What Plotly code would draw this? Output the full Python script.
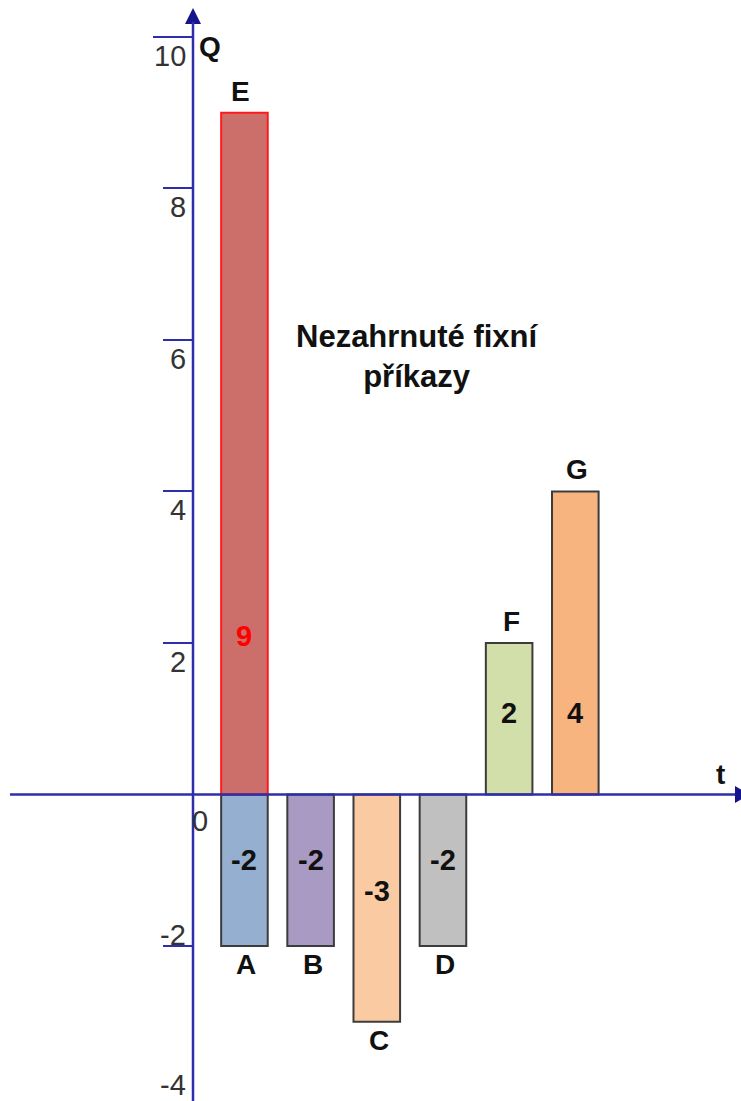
import plotly.graph_objects as go

# Bar data
categories = ["A", "B", "C", "D", "E", "F", "G"]
values = [-2, -2, -3, -2, 9, 2, 4]
slots = [1, 2, 3, 4, 1, 5, 6]
fill_colors = ["#95AFD0", "#A99AC3", "#FACBA3", "#C0C0C0", "#CC6F6A", "#D3DFAB", "#F7B47F"]
edge_colors = ["#3C3C3C", "#3C3C3C", "#3C3C3C", "#3C3C3C", "#FF1A1A", "#3C3C3C", "#3C3C3C"]
value_colors = ["#111111", "#111111", "#111111", "#111111", "#FF0000", "#111111", "#111111"]
y_ticks = [-4, -2, 0, 2, 4, 6, 8, 10]
note_lines = ["Nezahrnuté fixní", "příkazy"]

# Layout constants
W, H = 741, 1101
X_RANGE = [-2.694, 8.504]
Y_RANGE = [-4.046, 10.488]
AXIS_X = 193 / W               # paper position of the vertical Q axis
AXIS_XD = X_RANGE[0] + AXIS_X * (X_RANGE[1] - X_RANGE[0])
BAR_W = 0.704
AXIS_COLOR = "#2E2EAA"
ARROW_COLOR = "#14148C"
FONT = "Liberation Sans, Arial, sans-serif"

# heights at which the value text sits inside each bar
value_text_y = {"A": -0.86, "B": -0.86, "C": -1.28, "D": -0.86,
                "E": 2.09, "F": 1.07, "G": 1.07}

fig = go.Figure()

fig.add_trace(go.Bar(
    x=slots, y=values, width=BAR_W,
    marker=dict(color=fill_colors, line=dict(color=edge_colors, width=2)),
    hoverinfo="skip", showlegend=False,
))

# arrowhead at the top of the Q axis
fig.add_trace(go.Scatter(
    x=[AXIS_XD], y=[10.383], mode="markers",
    marker=dict(symbol="arrow-up", size=16, color=ARROW_COLOR, line=dict(width=0)),
    cliponaxis=False, hoverinfo="skip", showlegend=False,
))

shapes = [
    # vertical Q axis
    dict(type="line", xref="paper", yref="y", x0=AXIS_X, x1=AXIS_X,
         y0=Y_RANGE[0], y1=10.2, line=dict(color=AXIS_COLOR, width=2.5)),
    # horizontal t axis
    dict(type="line", xref="paper", yref="y", x0=10 / W, x1=737 / W,
         y0=0, y1=0, line=dict(color=AXIS_COLOR, width=2.5)),
    # arrowhead of the t axis, running off the right edge
    dict(type="path", xref="x", yref="y",
         path="M 8.413 0.112 L 8.640 0 L 8.413 -0.112 Z",
         fillcolor=ARROW_COLOR, line=dict(width=0)),
    # the top tick reaches a little further left
    dict(type="line", xref="paper", yref="y", x0=153 / W, x1=AXIS_X,
         y0=10, y1=10, line=dict(color=AXIS_COLOR, width=2)),
]

annotations = []

# tick labels
for v in y_ticks:
    if v == 0:
        continue
    annotations.append(dict(
        xref="paper", yref="y", x=188 / W, y=v, xanchor="right", yanchor="middle",
        yshift=-19 if v > 0 else (11 if v > -4 else 13), text=str(v), showarrow=False,
        font=dict(family=FONT, size=29, color="#333333"),
    ))
annotations.append(dict(
    x=0.33, y=-0.35, text="0", showarrow=False, xanchor="center", yanchor="middle",
    font=dict(family=FONT, size=29, color="#333333"),
))

# axis names
annotations.append(dict(x=0.48, y=9.87, text="Q", showarrow=False,
                        font=dict(family=FONT, size=28, color="#111111", weight="bold")))
annotations.append(dict(x=8.19, y=0.27, text="t", showarrow=False,
                        font=dict(family=FONT, size=28, color="#111111", weight="bold")))

# category letters and values
for cat, val, sx, vc in zip(categories, values, slots, value_colors):
    annotations.append(dict(
        x=sx, y=val, text=cat, showarrow=False,
        yanchor="bottom" if val > 0 else "top",
        yshift=4 if val > 0 else -1, xshift=-4 if cat == "E" else 2,
        font=dict(family=FONT, size=28, color="#111111", weight="bold"),
    ))
    annotations.append(dict(
        x=sx, y=value_text_y[cat], text=str(val), showarrow=False,
        font=dict(family=FONT, size=29, color=vc, weight="bold"),
    ))

# note
annotations.append(dict(
    x=3.62, y=5.78, text="<br>".join(note_lines), showarrow=False, align="center",
    font=dict(family=FONT, size=31, color="#111111", weight="bold"),
))

fig.update_layout(
    width=W, height=H, autosize=False,
    margin=dict(l=0, r=0, t=0, b=0),
    paper_bgcolor="white", plot_bgcolor="white",
    barmode="overlay",
    xaxis=dict(range=X_RANGE, visible=False, fixedrange=True),
    yaxis=dict(range=Y_RANGE, anchor="free", position=AXIS_X,
               showgrid=False, zeroline=False, showline=False,
               tickvals=[-2, 2, 4, 6, 8, 10], ticks="outside", ticklen=30,
               tickwidth=2, tickcolor=AXIS_COLOR, showticklabels=False,
               fixedrange=True),
    shapes=shapes,
    annotations=annotations,
)

fig.write_html("out.html")
